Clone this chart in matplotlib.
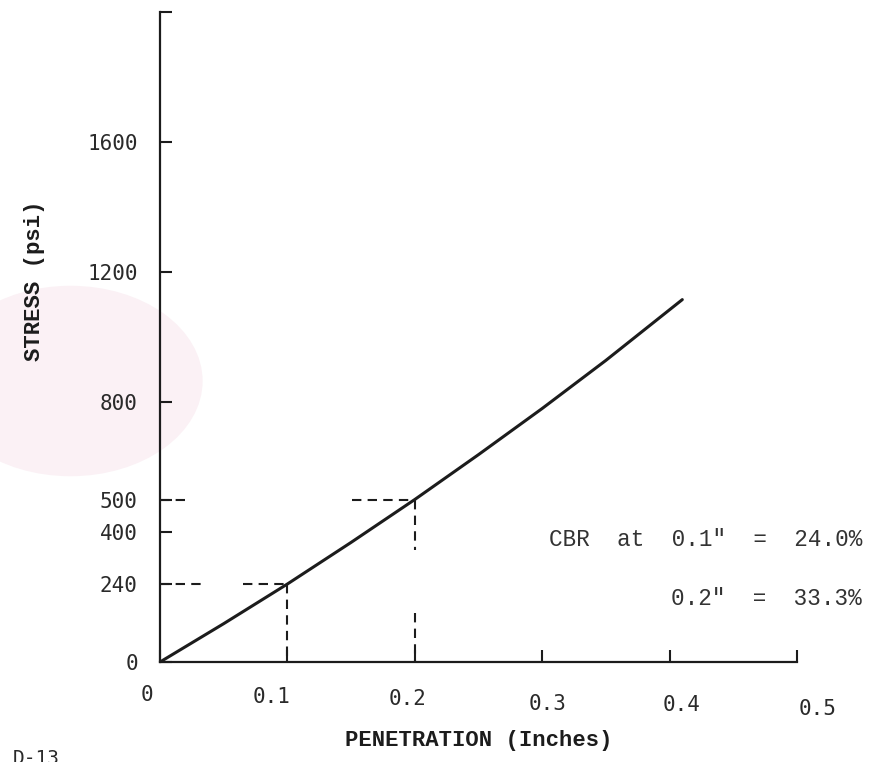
import matplotlib
matplotlib.use("Agg")
import matplotlib.pyplot as plt
import matplotlib.transforms as mtransforms
from matplotlib.patches import Ellipse

# stress-penetration curve
penetration = [0.0, 0.05, 0.1, 0.15, 0.2, 0.25, 0.3, 0.35, 0.41]
stress = [0, 118, 240, 368, 500, 638, 780, 928, 1115]

# CBR reading points (penetration, stress)
cbr_x = [0.1, 0.2]
cbr_y = [240, 500]
cbr_text = ['CBR  at  0.1"  =  24.0%', '0.2"  =  33.3%']

# gaps left open in the dashed guide lines
h_gaps = [(0.034, 0.065), (0.022, 0.151)]
v_gaps = [None, (151, 345)]

xticks = [0, 0.1, 0.2, 0.3, 0.4, 0.5]
xtick_labels = ["0", "0.1", "0.2", "0.3", "0.4", "0.5"]
yticks = [0, 240, 400, 500, 800, 1200, 1600, 2000]
ytick_labels = ["0", "240", "400", "500", "800", "1200", "1600", ""]

# hand-typed label offsets in pixels (dx, dy)
xlabel_shift = [(-13, 2), (-16, 0), (-7, -2), (5, -7), (12, -8), (21, -12)]

ink = "#1c1c1c"

fig = plt.figure(figsize=(8.81, 7.62), dpi=100)

# faint stamp behind the graph
fig.patches.append(Ellipse((0.08, 0.50), 0.30, 0.25, transform=fig.transFigure,
                           facecolor="#fbf1f5", edgecolor="none", zorder=-5))

ax = fig.add_axes([0.1816, 0.1312, 0.7230, 0.8531])
ax.patch.set_alpha(0)

ax.plot(penetration, stress, color=ink, lw=2.2, solid_capstyle="round")

# dashed guide lines from the axes to the CBR points
dash = dict(color=ink, lw=1.5, dashes=(4.5, 3))
for i in range(len(cbr_x)):
    x, y = cbr_x[i], cbr_y[i]
    g = h_gaps[i]
    ax.plot([0, g[0]], [y, y], **dash)
    ax.plot([g[1], x], [y, y], **dash)
    g = v_gaps[i]
    if g is None:
        ax.plot([x, x], [y, 0], **dash)
    else:
        ax.plot([x, x], [y, g[1]], **dash)
        ax.plot([x, x], [g[0], 0], **dash)

ax.set_xlim(0, 0.5)
ax.set_ylim(0, 2000)
for s in ["top", "right"]:
    ax.spines[s].set_visible(False)
for s in ["left", "bottom"]:
    ax.spines[s].set_linewidth(1.6)
    ax.spines[s].set_color(ink)

ax.set_xticks(xticks)
ax.set_xticklabels(xtick_labels)
ax.set_yticks(yticks)
ax.set_yticklabels(ytick_labels)
ax.tick_params(direction="in", length=8.5, width=1.5, color=ink,
               labelcolor="#2a2a2a", labelsize=15)
ax.tick_params(axis="x", pad=18)
ax.tick_params(axis="y", pad=16)
for lab in ax.get_xticklabels() + ax.get_yticklabels():
    lab.set_family("DejaVu Sans Mono")
for lab, (dx, dy) in zip(ax.get_xticklabels(), xlabel_shift):
    off = mtransforms.ScaledTranslation(dx / 100, dy / 100, fig.dpi_scale_trans)
    lab.set_transform(lab.get_transform() + off)

ax.set_xlabel("PENETRATION (Inches)", family="Liberation Mono",
              fontweight="bold", fontsize=16, color=ink)
ax.xaxis.set_label_coords(0.50, -0.104)
ax.set_ylabel("STRESS (psi)", family="Liberation Mono",
              fontweight="bold", fontsize=16, color=ink)
ax.yaxis.set_label_coords(-0.181, 0.586)

# CBR results typed at the right
ax.text(1.102, 0.188, cbr_text[0], transform=ax.transAxes, ha="right",
        va="center", family="Liberation Mono", fontsize=16.3, color="#333333")
ax.text(1.102, 0.098, cbr_text[1], transform=ax.transAxes, ha="right",
        va="center", family="Liberation Mono", fontsize=16.3, color="#333333")

fig.text(0.014, 0.017, "D-13", family="DejaVu Sans Mono", fontsize=14,
         color="#2a2a2a", va="top")

fig.savefig("out.png", dpi=100)
